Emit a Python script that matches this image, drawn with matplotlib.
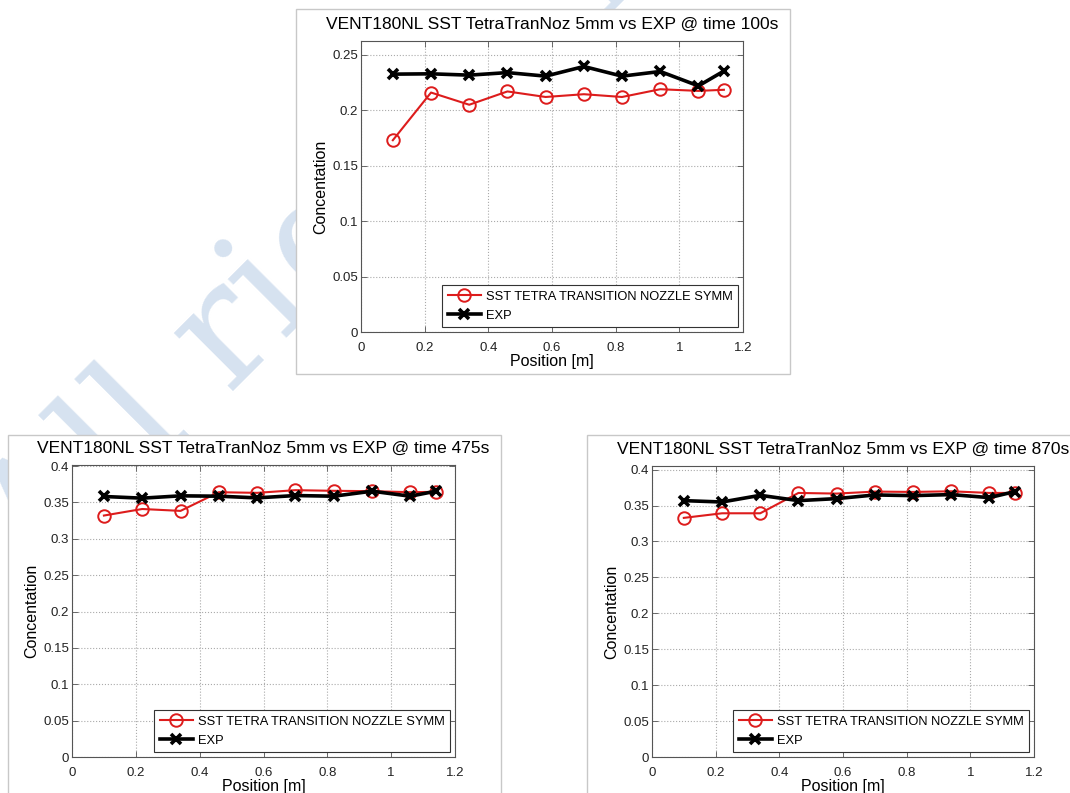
import matplotlib
matplotlib.use("Agg")
import matplotlib.pyplot as plt
from matplotlib.patches import Rectangle
from matplotlib.ticker import MultipleLocator, FuncFormatter

plt.rcParams['font.family'] = ['Liberation Sans', 'DejaVu Sans']

# data
position = [0.10, 0.22, 0.34, 0.46, 0.58, 0.70, 0.82, 0.94, 1.06, 1.14]

sst_100 = [0.173, 0.216, 0.205, 0.217, 0.212, 0.2145, 0.212, 0.219, 0.2175, 0.2185]
exp_100 = [0.2326, 0.2329, 0.2317, 0.234, 0.2308, 0.2395, 0.2308, 0.235, 0.222, 0.2354]

sst_475 = [0.332, 0.341, 0.3384, 0.3641, 0.3632, 0.3669, 0.366, 0.3655, 0.3641, 0.3646]
exp_475 = [0.3582, 0.3559, 0.3591, 0.3586, 0.3563, 0.3595, 0.3586, 0.3655, 0.3586, 0.3655]

sst_870 = [0.3328, 0.3392, 0.3392, 0.3675, 0.3666, 0.3694, 0.3689, 0.3698, 0.3675, 0.3675]
exp_870 = [0.3568, 0.3549, 0.3642, 0.3568, 0.3596, 0.3647, 0.3638, 0.3652, 0.361, 0.3694]

times = ['100s', '475s', '870s']
sim_label = 'SST TETRA TRANSITION NOZZLE SYMM'
exp_label = 'EXP'

W, H = 1070, 793
fig = plt.figure(figsize=(W / 100, H / 100), dpi=100)


def px_box(x0, y0, x1, y1):
    # pixel box (top-left origin) -> figure fraction [left, bottom, width, height]
    return [x0 / W, 1 - y1 / H, (x1 - x0) / W, (y1 - y0) / H]


# watermark behind the cards: put the "r" of "rights" where it shows in the picture
wm_size = 115
wm_font = ['DejaVu Serif']
rend = fig.canvas.get_renderer()
probe = fig.text(0, 0, 'All r', fontsize=wm_size, family=wm_font)
w_all = probe.get_window_extent(rend).width
probe.set_text('r')
w_r = probe.get_window_extent(rend).width
probe.remove()
shift = (w_all - w_r) * 0.7071
rx, ry = 230, H - 395
fig.text((rx - shift) / W, (ry - shift) / H, 'All rights reserved', rotation=45,
         rotation_mode='anchor', ha='left', va='baseline', fontsize=wm_size,
         family=wm_font, color='#d6e2f0', zorder=-2)

# white cards with thin grey border
for box in [(296, 9, 790, 374), (8, 435, 501, 810), (587, 435, 1085, 810)]:
    l, b, w, h = px_box(*box)
    fig.add_artist(Rectangle((l, b), w, h, transform=fig.transFigure, facecolor='white',
                             edgecolor='#c8c8c8', linewidth=1.0, zorder=-1))

panels = [
    (px_box(361, 41, 743, 332), sst_100, exp_100, times[0], 0.2625),
    (px_box(72, 465, 455, 757), sst_475, exp_475, times[1], 0.4015),
    (px_box(652, 466, 1034, 757), sst_870, exp_870, times[2], 0.405),
]

fmt = FuncFormatter(lambda v, p: '%g' % round(v, 4))

for rect, sst, exp, t, ytop in panels:
    ax = fig.add_axes(rect)
    ax.plot(position, sst, color='#dd1c1c', marker='o', markersize=9, markerfacecolor='none',
            markeredgewidth=1.4, linewidth=1.5, label=sim_label)
    ax.plot(position, exp, color='black', marker='x', markersize=7, markeredgewidth=2.6,
            linewidth=2.6, label=exp_label)
    ax.set_xlim(0, 1.2)
    ax.set_ylim(0, ytop)
    ax.xaxis.set_major_locator(MultipleLocator(0.2))
    ax.yaxis.set_major_locator(MultipleLocator(0.05))
    ax.xaxis.set_major_formatter(fmt)
    ax.yaxis.set_major_formatter(fmt)
    ax.grid(True, linestyle=':', color='#aaaaaa', linewidth=0.8)
    ax.tick_params(direction='in', top=True, right=True, length=4, width=0.6,
                   labelsize=9.5, colors='#555555', labelcolor='#222222')
    ax.tick_params(axis='x', pad=7)
    ax.tick_params(axis='y', pad=2)
    for s in ax.spines.values():
        s.set_color('#555555')
        s.set_linewidth(0.8)
    ax.set_title(f'VENT180NL SST TetraTranNoz 5mm vs EXP @ time {t}', fontsize=12.5, pad=9)
    ax.set_xlabel('Position [m]', fontsize=11.5, labelpad=0)
    ax.set_ylabel('Concentation', fontsize=11.5, labelpad=3)
    leg = ax.legend(loc='lower right', fontsize=9.3, fancybox=False, framealpha=1,
                    edgecolor='#333333', borderaxespad=0.35, handlelength=2.55,
                    labelspacing=0.55, borderpad=0.45, handletextpad=0.4)
    leg.get_frame().set_linewidth(0.8)

fig.savefig('out.png', dpi=100)
